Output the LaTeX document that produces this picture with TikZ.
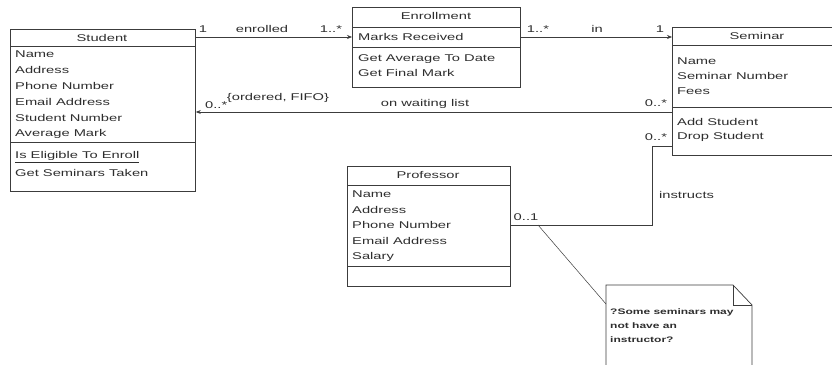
\documentclass[tikz,border=0pt]{standalone}
\usepackage{fontspec}
\setmainfont{Liberation Sans}[FakeStretch=1.5]
\usetikzlibrary{arrows.meta}
\definecolor{linec}{HTML}{3C3C3C}
\definecolor{txtc}{HTML}{2E2E2E}
\newcommand{\fs}{\fontsize{9.8}{12}\selectfont}
\newcommand{\fn}{\fontsize{8}{10}\selectfont\bfseries}
\tikzset{
  cls/.style={draw=linec, line width=0.8pt, fill=white, inner sep=0pt, anchor=north west},
  attr/.style={anchor=west, inner sep=0pt, text=txtc, font=\fs},
  ttl/.style={anchor=center, inner sep=0pt, text=txtc, font=\fs},
  lbl/.style={inner sep=0pt, text=txtc, font=\fs},
  divl/.style={draw=linec, line width=0.8pt},
  conn/.style={draw=linec, line width=0.7pt},
  arr/.style={-{Stealth[length=5pt,width=4pt]}},
  notetxt/.style={anchor=west, inner sep=0pt, text=txtc, font=\fn}
}
\begin{document}
\begin{tikzpicture}[x=1pt,y=-1pt]
\clip (0,0) rectangle (832,364);
\fill[white] (0,0) rectangle (832,364);

% ---------- Student ----------
\node[cls, minimum width=185pt, minimum height=162pt] (stu) at (10,29) {};
\node[ttl] (stuT) at (102,38) {Student};
\draw[divl] (10,46) -- (195,46);
\node[attr] (s1) at (15,54) {Name};
\node[attr] (s2) at (15,70) {Address};
\node[attr] (s3) at (15,86) {Phone Number};
\node[attr] (s4) at (15,102) {Email Address};
\node[attr] (s5) at (15,118) {Student Number};
\node[attr] (s6) at (15,134) {Average Mark};
\draw[divl] (10,142) -- (195,142);
\node[attr] (s7) at (15,157) {\underline{Is Eligible To Enroll}};
\node[attr] (s8) at (15,173) {Get Seminars Taken};

% ---------- Enrollment ----------
\node[cls, minimum width=168pt, minimum height=80pt] (enr) at (352,7) {};
\node[ttl] (enrT) at (436,16) {Enrollment};
\draw[divl] (352,27) -- (520,27);
\node[attr] (e1) at (358,37) {Marks Received};
\draw[divl] (352,47) -- (520,47);
\node[attr] (e2) at (358,59) {Get Average To Date};
\node[attr] (e3) at (358,73) {Get Final Mark};

% ---------- Seminar ----------
\node[cls, minimum width=170pt, minimum height=128pt] (sem) at (672,27) {};
\node[ttl] (semT) at (757,36) {Seminar};
\draw[divl] (672,45) -- (842,45);
\node[attr] (m1) at (677,61) {Name};
\node[attr] (m2) at (677,76) {Seminar Number};
\node[attr] (m3) at (677,91) {Fees};
\draw[divl] (672,107) -- (842,107);
\node[attr] (m4) at (677,122) {Add Student};
\node[attr] (m5) at (677,137) {Drop Student};

% ---------- Professor ----------
\node[cls, minimum width=163pt, minimum height=120pt] (prof) at (347,166) {};
\node[ttl] (profT) at (428,175) {Professor};
\draw[divl] (347,185) -- (510,185);
\node[attr] (p1) at (352,194) {Name};
\node[attr] (p2) at (352,210) {Address};
\node[attr] (p3) at (352,225) {Phone Number};
\node[attr] (p4) at (352,241) {Email Address};
\node[attr] (p5) at (352,257) {Salary};
\draw[divl] (347,266) -- (510,266);

% ---------- Note ----------
\coordinate (nA) at (606,285);
\coordinate (nB) at (733,285);
\coordinate (nC) at (752,305);
\coordinate (nD) at (752,372);
\coordinate (nE) at (606,372);
\draw[conn, fill=white] (nA) -- (nB) -- (nC) -- (nD) -- (nE) -- cycle;
\draw[conn] (nB) -- (733,305) -- (nC);
\node[notetxt] (n1) at (610,312) {?Some seminars may};
\node[notetxt] (n2) at (610,326) {not have an};
\node[notetxt] (n3) at (610,340) {instructor?};

% ---------- Connectors ----------
\draw[conn, arr] (stu.east |- 0,37) -- (enr.west |- 0,37);
\draw[conn, arr] (enr.east |- 0,37) -- (sem.west |- 0,37);
\draw[conn, arr] (sem.west |- 0,112) -- (stu.east |- 0,112);
\coordinate (bend) at (652,146);
\draw[conn] (sem.west |- bend) -- (bend) |- (prof.east |- 0,225);
\coordinate (noteA) at (538,225);
\draw[conn, line width=0.5pt] (noteA) -- (nA |- 0,304);

% ---------- Labels ----------
\node[lbl] (l1) at (203,29) {1};
\node[lbl] (l2) at (262,29) {enrolled};
\node[lbl] (l3) at (331,29) {1..*};
\node[lbl] (l4) at (538,29) {1..*};
\node[lbl] (l5) at (597,29) {in};
\node[lbl] (l6) at (660,29) {1};
\node[lbl, anchor=west] (l7) at (205,105) {0..*};
\node[lbl] (l8) at (278,98) {\{ordered, FIFO\}};
\node[lbl] (l9) at (425,104) {on waiting list};
\node[lbl] (l10) at (656,103) {0..*};
\node[lbl] (l11) at (656,137) {0..*};
\node[lbl, anchor=west] (l12) at (659,195) {instructs};
\node[lbl] (l13) at (526,217) {0..1};
\end{tikzpicture}
\end{document}
